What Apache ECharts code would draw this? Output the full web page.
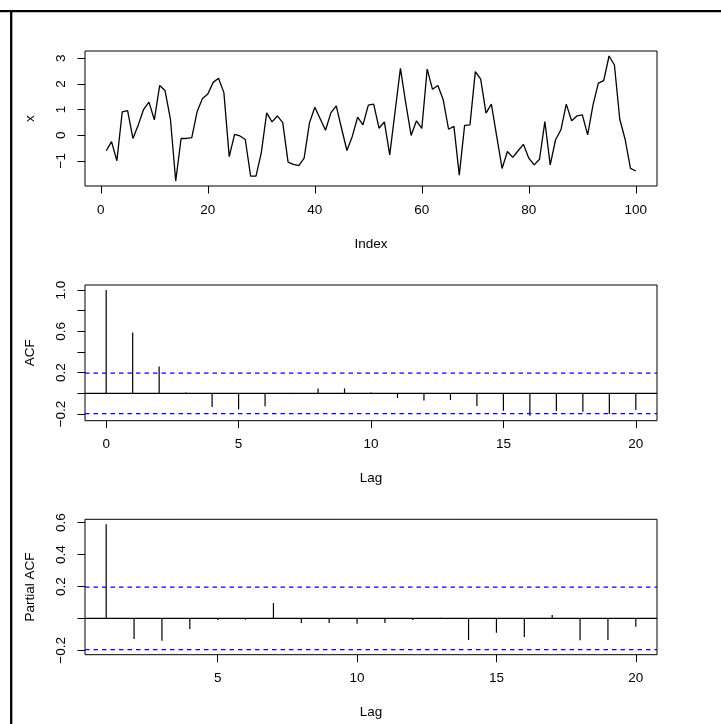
<!DOCTYPE html>
<html><head><meta charset="utf-8">
<script src="https://cdn.jsdelivr.net/npm/echarts@6/dist/echarts.min.js"></script>
<style>html,body{margin:0;padding:0;background:#fff;}#c{width:721px;height:724px;}</style>
</head><body><div id="c"></div>
<script>
// ---- data ----
const seriesX = [-0.61,-0.25,-1.0,0.91,0.96,-0.13,0.40,1.01,1.29,0.60,
  1.94,1.74,0.64,-1.79,-0.13,-0.13,-0.10,0.92,1.43,1.61,
  2.06,2.22,1.66,-0.84,0.03,-0.03,-0.17,-1.60,-1.60,-0.68,
  0.87,0.52,0.75,0.49,-1.05,-1.14,-1.19,-0.90,0.48,1.09,
  0.64,0.19,0.87,1.14,0.26,-0.60,-0.05,0.70,0.40,1.17,
  1.21,0.27,0.52,-0.77,0.92,2.61,1.25,-0.01,0.56,0.26,
  2.58,1.79,1.94,1.38,0.23,0.34,-1.56,0.38,0.40,2.48,
  2.19,0.86,1.21,-0.05,-1.30,-0.64,-0.87,-0.61,-0.36,-0.90,
  -1.16,-0.94,0.53,-1.16,-0.18,0.21,1.21,0.56,0.75,0.79,
  0.01,1.18,2.03,2.13,3.09,2.74,0.62,-0.16,-1.30,-1.40];
const indexTicks = [0,20,40,60,80,100];
const xValueTicks = [-1,0,1,2,3];

const acfLags = [0,1,2,3,4,5,6,7,8,9,10,11,12,13,14,15,16,17,18,19,20];
const acfValues = [1.0,0.590,0.261,0.008,-0.132,-0.155,-0.126,-0.008,0.048,0.048,
  0.008,-0.045,-0.068,-0.065,-0.123,-0.168,-0.216,-0.171,-0.177,-0.200,-0.161];
const acfXTicks = [0,5,10,15,20];
const acfYTicks = [-0.2,0,0.2,0.4,0.6,0.8,1.0];
const acfYLabels = [-0.2,0.2,0.6,1.0];

const pacfLags = [1,2,3,4,5,6,7,8,9,10,11,12,13,14,15,16,17,18,19,20];
const pacfValues = [0.590,-0.129,-0.140,-0.067,-0.010,-0.008,0.096,-0.029,-0.029,-0.033,
  -0.029,-0.010,0.004,-0.135,-0.090,-0.117,0.021,-0.1375,-0.135,-0.052];
const pacfXTicks = [5,10,15,20];
const pacfYTicks = [-0.2,0,0.2,0.4,0.6];
const pacfYLabels = [-0.2,0.2,0.4,0.6];

const clim = 0.196;

// ---- helpers ----
const FONT = 'Liberation Sans';
const FS = 13.5;
function ext(lo, hi){ const d = (hi - lo) * 0.04; return [lo - d, hi + d]; }
function fmt(dec){ return v => { const s = Math.abs(v).toFixed(dec); return v < -1e-9 ? '\u2212' + s : s; }; }

const r1x = ext(1, seriesX.length);
const r1y = ext(Math.min(...seriesX), Math.max(...seriesX));
const r2x = ext(Math.min(...acfLags), Math.max(...acfLags));
const r2y = ext(Math.min(...acfValues, -clim), Math.max(...acfValues, clim));
const r3x = ext(Math.min(...pacfLags), Math.max(...pacfLags));
const r3y = ext(Math.min(...pacfValues, -clim), Math.max(...pacfValues, clim));

const txt = {color:'#000', fontSize:FS, fontFamily:FONT};

function xAx(gi, range, ticks, name){
  return {type:'value', gridIndex:gi, min:range[0], max:range[1], splitLine:{show:false},
    axisLine:{show:false, onZero:false},
    axisTick:{show:true, customValues:ticks, length:7.5, lineStyle:{color:'#000', width:1}},
    axisLabel:Object.assign({customValues:ticks, margin:17, formatter:fmt(0)}, txt),
    name:name, nameLocation:'middle', nameGap:51, nameTextStyle:txt};
}
function yAx(gi, range, ticks, labels, dec, name){
  return {type:'value', gridIndex:gi, min:range[0], max:range[1], splitLine:{show:false},
    axisLine:{show:false, onZero:false},
    axisTick:{show:true, customValues:ticks, length:7.5, lineStyle:{color:'#000', width:1}},
    axisLabel:Object.assign({customValues:labels, margin:17, rotate:90, formatter:fmt(dec)}, txt),
    name:name, nameLocation:'middle', nameGap:48, nameTextStyle:txt};
}
function spikes(ai, lags, vals){
  return {type:'custom', xAxisIndex:ai, yAxisIndex:ai, z:3,
    data: lags.map((l,i)=>[l, vals[i]]),
    encode:{x:0, y:1},
    renderItem:(params, api)=>{
      const p0 = api.coord([api.value(0), 0]);
      const p1 = api.coord([api.value(0), api.value(1)]);
      return {type:'line', shape:{x1:p0[0], y1:p0[1], x2:p1[0], y2:p1[1]},
        style:{stroke:'#000', lineWidth:1.2}};
    }};
}
function hline(ai, xr, y, color, dashed){
  return {type:'line', xAxisIndex:ai, yAxisIndex:ai, z: dashed ? 5 : 4, showSymbol:false, symbol:'none',
    data:[[xr[0], y],[xr[1], y]], silent:true,
    lineStyle:{color:color, width:1.2, type: dashed ? [4.5,4] : 'solid'}};
}

const gridBase = {left:85, right:64, show:true, borderColor:'#000', borderWidth:1, containLabel:false};

const option = {
  animation:false,
  backgroundColor:'#fff',
  grid:[
    Object.assign({top:51, height:135}, gridBase),
    Object.assign({top:285, height:135.7}, gridBase),
    Object.assign({top:519.3, height:135.4}, gridBase)
  ],
  xAxis:[ xAx(0, r1x, indexTicks, 'Index'), xAx(1, r2x, acfXTicks, 'Lag'), xAx(2, r3x, pacfXTicks, 'Lag') ],
  yAxis:[ yAx(0, r1y, xValueTicks, xValueTicks, 0, 'x'),
          yAx(1, r2y, acfYTicks, acfYLabels, 1, 'ACF'),
          yAx(2, r3y, pacfYTicks, pacfYLabels, 1, 'Partial ACF') ],
  series:[
    {type:'line', xAxisIndex:0, yAxisIndex:0, showSymbol:false, symbol:'none',
     data: seriesX.map((v,i)=>[i+1, v]), lineStyle:{color:'#000', width:1.3}},
    spikes(1, acfLags, acfValues),
    hline(1, r2x, 0, '#000', false),
    hline(1, r2x, clim, '#0000ff', true),
    hline(1, r2x, -clim, '#0000ff', true),
    spikes(2, pacfLags, pacfValues),
    hline(2, r3x, 0, '#000', false),
    hline(2, r3x, clim, '#0000ff', true),
    hline(2, r3x, -clim, '#0000ff', true)
  ],
  graphic:[
    {type:'line', shape:{x1:0, y1:11.2, x2:721, y2:11.2}, style:{stroke:'#000', lineWidth:2.3}, z:100},
    {type:'line', shape:{x1:11.2, y1:10, x2:11.2, y2:724}, style:{stroke:'#000', lineWidth:2.3}, z:100}
  ]
};
const chart = echarts.init(document.getElementById('c'), null, {renderer:'canvas'});
chart.setOption(option);
</script>
</body></html>
